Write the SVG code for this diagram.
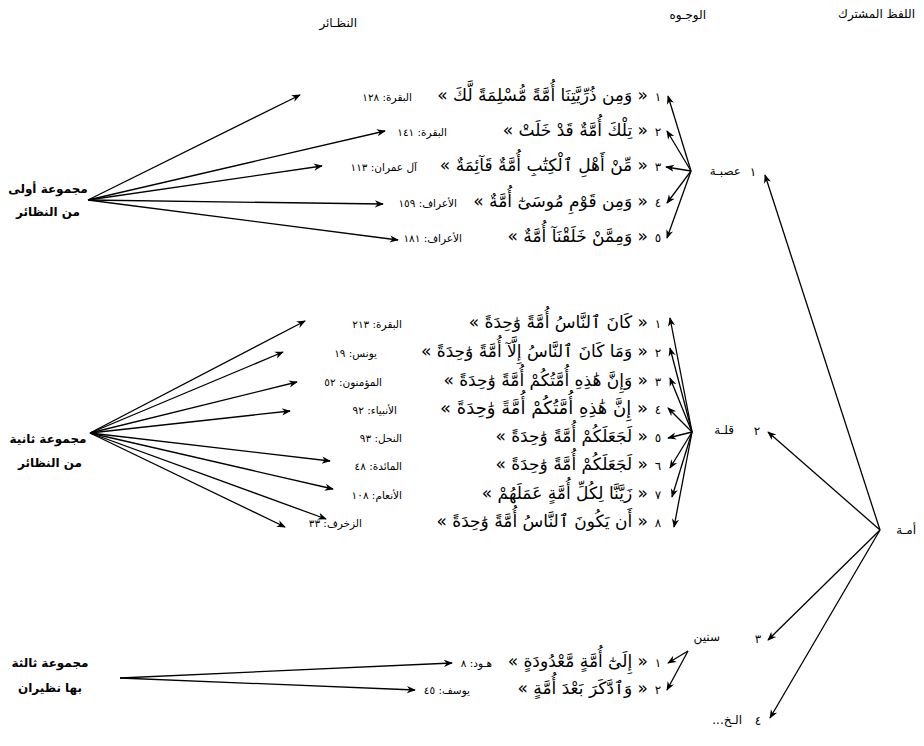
<svg xmlns="http://www.w3.org/2000/svg" width="924" height="746" viewBox="0 0 924 746">
<defs>
<style>
text{font-family:"DejaVu Sans","Noto Sans",sans-serif;fill:#000}
.hd{font-size:12px;direction:rtl}
.q{font-size:17px;direction:rtl}
.c{font-size:10.5px;direction:rtl}
.n{font-size:12px;text-anchor:middle}
.lbl{font-size:12px;font-weight:bold;text-anchor:middle}
.w{font-size:12px;direction:rtl}
.cn line{stroke:#000;stroke-width:1.3;marker-end:url(#ah)}
</style>
<marker id="ah" viewBox="0 0 10 10" refX="9" refY="5" markerWidth="9" markerHeight="9" markerUnits="userSpaceOnUse" orient="auto">
<path d="M0,1 L10,5 L0,9 L3,5 z" fill="#000"/>
</marker>
</defs>
<rect width="924" height="746" fill="#fff"/>

<g id="header">
<text class="hd" x="915" y="18">اللفظ المشترك</text>
<text class="hd" x="706" y="19">الوجـوه</text>
<text class="hd" x="357" y="27">النظـائر</text>
</g>

<g id="umma"><text class="w" x="916" y="534">أمـة</text></g>
<g id="w1"><text class="n" x="753" y="176">١</text><text class="w" x="741" y="175">عصبـة</text></g>
<g id="w2"><text class="n" x="757" y="435">٢</text><text class="w" x="734" y="434">قلـة</text></g>
<g id="w3"><text class="n" x="758" y="643">٣</text><text class="w" x="720" y="641">سنين</text></g>
<g id="w4"><text class="n" x="758" y="725">٤</text><text class="w" x="742" y="724">الـخ...</text></g>

<g id="g1label"><text class="lbl" x="48" y="193">مجموعة أولى</text><text class="lbl" x="48" y="216">من النظائر</text></g>
<g id="g2label"><text class="lbl" x="48" y="443">مجموعة ثانية</text><text class="lbl" x="50" y="467">من النظائر</text></g>
<g id="g3label"><text class="lbl" x="50" y="667">مجموعة ثالثة</text><text class="lbl" x="50" y="692">بها نظيران</text></g>

<g id="g1">
<g id="g1r1"><text class="n" x="658" y="101">١</text><text class="q" x="648" y="101">« وَمِن ذُرِّيَّتِنَا أُمَّةً مُّسْلِمَةً لَّكَ »</text><text class="c" x="412" y="101">البقرة: ١٢٨</text></g>
<g id="g1r2"><text class="n" x="658" y="136">٢</text><text class="q" x="648" y="136">« تِلْكَ أُمَّةٌ قَدْ خَلَتْ »</text><text class="c" x="447" y="136">البقرة: ١٤١</text></g>
<g id="g1r3"><text class="n" x="658" y="171">٣</text><text class="q" x="648" y="171">« مِّنْ أَهْلِ ٱلْكِتَٰبِ أُمَّةٌ قَآئِمَةٌ »</text><text class="c" x="417" y="171">آل عمران: ١١٣</text></g>
<g id="g1r4"><text class="n" x="658" y="207">٤</text><text class="q" x="648" y="207">« وَمِن قَوْمِ مُوسَىٰٓ أُمَّةٌ »</text><text class="c" x="457" y="207">الأعراف: ١٥٩</text></g>
<g id="g1r5"><text class="n" x="658" y="242">٥</text><text class="q" x="648" y="242">« وَمِمَّنْ خَلَقْنَآ أُمَّةٌ »</text><text class="c" x="462" y="242">الأعراف: ١٨١</text></g>
</g>

<g id="g2">
<g id="g2r1"><text class="n" x="658" y="328">١</text><text class="q" x="648" y="328">« كَانَ ٱلنَّاسُ أُمَّةً وَٰحِدَةً »</text><text class="c" x="402" y="328">البقرة: ٢١٣</text></g>
<g id="g2r2"><text class="n" x="658" y="357">٢</text><text class="q" x="648" y="357">« وَمَا كَانَ ٱلنَّاسُ إِلَّآ أُمَّةً وَٰحِدَةً »</text><text class="c" x="377" y="357">يونس: ١٩</text></g>
<g id="g2r3"><text class="n" x="658" y="386">٣</text><text class="q" x="648" y="386">« وَإِنَّ هَٰذِهِ أُمَّتُكُمْ أُمَّةً وَٰحِدَةً »</text><text class="c" x="382" y="386">المؤمنون: ٥٢</text></g>
<g id="g2r4"><text class="n" x="658" y="414">٤</text><text class="q" x="648" y="414" style="font-size:18px">« إِنَّ هَٰذِهِ أُمَّتُكُمْ أُمَّةً وَٰحِدَةً »</text><text class="c" x="397" y="414">الأنبياء: ٩٢</text></g>
<g id="g2r5"><text class="n" x="658" y="442">٥</text><text class="q" x="648" y="442">« لَجَعَلَكُمْ أُمَّةً وَٰحِدَةً »</text><text class="c" x="402" y="442">النحل: ٩٣</text></g>
<g id="g2r6"><text class="n" x="658" y="470">٦</text><text class="q" x="648" y="470">« لَجَعَلَكُمْ أُمَّةً وَٰحِدَةً »</text><text class="c" x="402" y="470">المائدة: ٤٨</text></g>
<g id="g2r7"><text class="n" x="658" y="499">٧</text><text class="q" x="648" y="499">« زَيَّنَّا لِكُلِّ أُمَّةٍ عَمَلَهُمْ »</text><text class="c" x="402" y="499">الأنعام: ١٠٨</text></g>
<g id="g2r8"><text class="n" x="658" y="527">٨</text><text class="q" x="648" y="527">« أَن يَكُونَ ٱلنَّاسُ أُمَّةً وَٰحِدَةً »</text><text class="c" x="362" y="527">الزخرف: ٣٣</text></g>
</g>

<g id="g3">
<g id="g3r1"><text class="n" x="658" y="667">١</text><text class="q" x="648" y="667">« إِلَىٰٓ أُمَّةٍ مَّعْدُودَةٍ »</text><text class="c" x="492" y="667">هـود: ٨</text></g>
<g id="g3r2"><text class="n" x="658" y="694">٢</text><text class="q" x="648" y="694">« وَٱدَّكَرَ بَعْدَ أُمَّةٍ »</text><text class="c" x="470" y="694">يوسف: ٤٥</text></g>
</g>

<g id="connectors" class="cn">
<line x1="88" y1="200" x2="300" y2="95"/>
<line x1="88" y1="200" x2="385" y2="131"/>
<line x1="88" y1="200" x2="322" y2="166"/>
<line x1="88" y1="200" x2="383" y2="204"/>
<line x1="88" y1="200" x2="398" y2="240"/>
<line x1="691" y1="171" x2="668" y2="96"/>
<line x1="691" y1="171" x2="667" y2="131"/>
<line x1="691" y1="171" x2="666" y2="167"/>
<line x1="691" y1="171" x2="667" y2="203"/>
<line x1="691" y1="171" x2="667" y2="238"/>
<line x1="90" y1="433" x2="305" y2="321"/>
<line x1="90" y1="433" x2="283" y2="352"/>
<line x1="90" y1="433" x2="297" y2="382"/>
<line x1="90" y1="433" x2="290" y2="411"/>
<line x1="90" y1="433" x2="330" y2="461"/>
<line x1="90" y1="433" x2="333" y2="489"/>
<line x1="90" y1="433" x2="326" y2="519"/>
<line x1="90" y1="433" x2="285" y2="527"/>
<line x1="692" y1="432" x2="670" y2="318"/>
<line x1="692" y1="432" x2="670" y2="348"/>
<line x1="692" y1="432" x2="670" y2="378"/>
<line x1="692" y1="432" x2="668" y2="408"/>
<line x1="692" y1="432" x2="668" y2="438"/>
<line x1="692" y1="432" x2="670" y2="468"/>
<line x1="692" y1="432" x2="672" y2="497"/>
<line x1="692" y1="432" x2="674" y2="527"/>
<line x1="120" y1="678" x2="452" y2="663"/>
<line x1="120" y1="678" x2="415" y2="690"/>
<line x1="688" y1="651" x2="668" y2="663"/>
<line x1="688" y1="651" x2="667" y2="690"/>
<line x1="880" y1="530" x2="765" y2="175"/>
<line x1="880" y1="530" x2="768" y2="432"/>
<line x1="880" y1="530" x2="768" y2="640"/>
<line x1="880" y1="530" x2="770" y2="718"/>
</g>
</svg>
